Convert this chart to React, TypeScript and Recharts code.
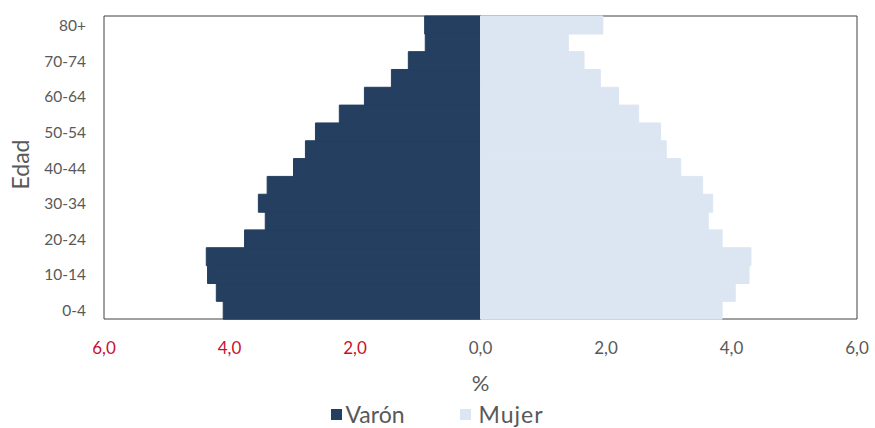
import React from 'react';
import { BarChart, Bar, XAxis, YAxis, ReferenceArea, Legend, Label } from 'recharts';

const ageGroups = ['0-4', '5-9', '10-14', '15-19', '20-24', '25-29', '30-34', '35-39', '40-44', '45-49', '50-54', '55-59', '60-64', '65-69', '70-74', '75-79', '80+'];
const varon = [4.1, 4.21, 4.35, 4.37, 3.76, 3.43, 3.54, 3.4, 2.98, 2.79, 2.63, 2.25, 1.85, 1.42, 1.15, 0.88, 0.89];
const mujer = [3.85, 4.06, 4.28, 4.31, 3.85, 3.63, 3.7, 3.54, 3.19, 2.96, 2.87, 2.52, 2.2, 1.91, 1.65, 1.4, 1.95];
const xTicks = [-6, -4, -2, 0, 2, 4, 6];

const data = ageGroups.map((age, i) => ({ age, varon: -varon[i], mujer: mujer[i] }));

const FONT = 'Lato, "Open Sans", sans-serif';
const DARK = '#243F60';
const LIGHT = '#DCE6F2';
const GRAY = '#595959';
const RED = '#C8102E';

const XTick = (props: any) => {
  const { x, y, payload } = props;
  const v = payload.value as number;
  const label = Math.abs(v).toFixed(1).replace('.', ',');
  return (
    <text x={x} y={y + 27} textAnchor="middle" fontSize={17} fontFamily={FONT} fill={v < 0 ? RED : GRAY}>
      {label}
    </text>
  );
};

const YTick = (props: any) => {
  const { x, y, payload } = props;
  return (
    <text x={x - 10} y={y} textAnchor="end" dominantBaseline="central" fontSize={15.5} fontFamily={FONT} fill={GRAY}>
      {payload.value}
    </text>
  );
};

const YLabel = (props: any) => {
  const vb = props.viewBox || { y: 16, height: 303 };
  const cy = vb.y + vb.height / 2 - 3;
  return (
    <text x={20} y={cy} transform={`rotate(-90, 20, ${cy})`} textAnchor="middle" dominantBaseline="central" fontSize={23} fontFamily={FONT} fill={GRAY}>
      Edad
    </text>
  );
};

const LegendContent = () => (
  <div style={{ display: 'flex', justifyContent: 'center', alignItems: 'center', fontFamily: FONT, fontSize: 23, color: GRAY }}>
    <div style={{ display: 'flex', alignItems: 'center', marginRight: 55 }}>
      <span style={{ display: 'inline-block', width: 11, height: 11, background: DARK, marginRight: 3 }} />
      <span>Varón</span>
    </div>
    <div style={{ display: 'flex', alignItems: 'center' }}>
      <span style={{ display: 'inline-block', width: 11, height: 11, background: LIGHT, marginRight: 8 }} />
      <span style={{ letterSpacing: 1 }}>Mujer</span>
    </div>
  </div>
);

export default function App() {
  return (
    <div style={{ position: 'absolute', left: 0, top: 0, width: 875, height: 428, background: '#fff' }}>
      <BarChart
        width={875}
        height={428}
        data={data}
        layout="vertical"
        barCategoryGap={0}
        stackOffset="sign"
        margin={{ top: 16, right: 18, bottom: 29, left: 0 }}
      >
        <XAxis
          type="number"
          domain={[-6, 6]}
          ticks={xTicks}
          axisLine={false}
          tickLine={false}
          height={80}
          tick={<XTick />}
        >
          <Label value="%" position="insideBottom" offset={8} fontSize={22} fontFamily={FONT} fill={GRAY} />
        </XAxis>
        <YAxis
          type="category"
          dataKey="age"
          reversed
          width={104}
          interval={1}
          axisLine={false}
          tickLine={false}
          tick={<YTick />}
        >
          <Label content={<YLabel />} />
        </YAxis>
        <Bar dataKey="varon" name="Varón" stackId="a" fill={DARK} stroke={DARK} strokeWidth={1} isAnimationActive={false} />
        <Bar dataKey="mujer" name="Mujer" stackId="a" fill={LIGHT} stroke={LIGHT} strokeWidth={1} isAnimationActive={false} />
        <ReferenceArea x1={-6} x2={6} fill="none" stroke="#404040" strokeWidth={1} ifOverflow="visible" />
        <Legend
          layout="horizontal"
          verticalAlign="middle"
          align="center"
          content={<LegendContent />}
          wrapperStyle={{ top: 400, left: 0, width: 875 }}
        />
      </BarChart>
    </div>
  );
}
